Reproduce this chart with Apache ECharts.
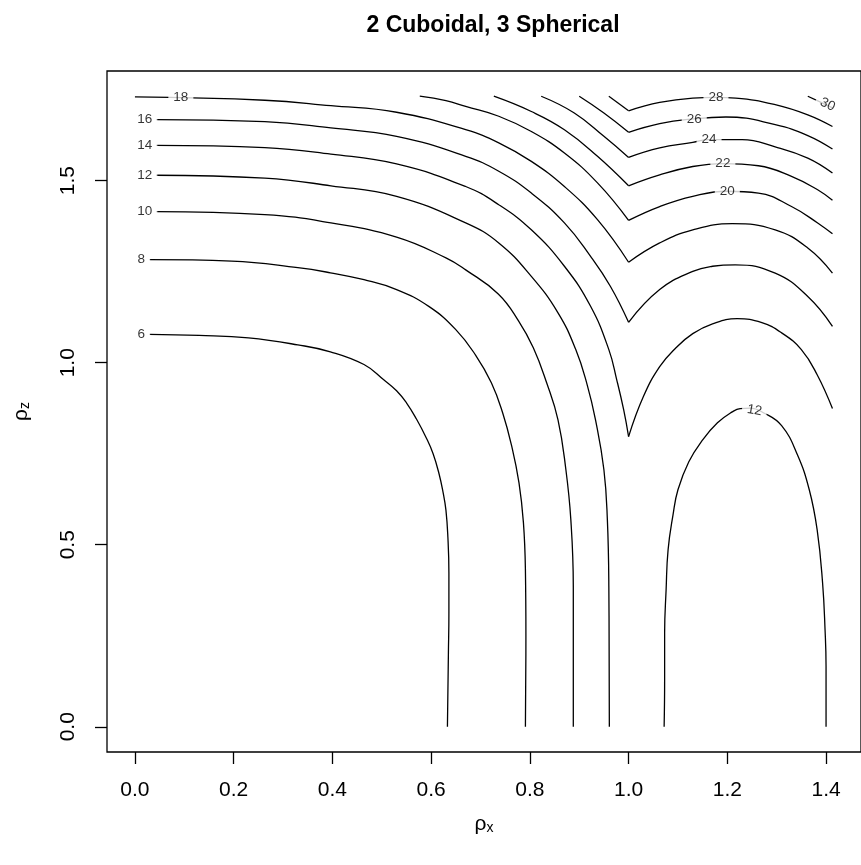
<!DOCTYPE html>
<html>
<head>
<meta charset="utf-8">
<script src="https://cdn.jsdelivr.net/npm/echarts@6/dist/echarts.min.js"></script>
<style>
html, body { margin: 0; padding: 0; background: #fff; }
#chart { width: 861px; height: 865px; }
</style>
</head>
<body>
<div id="chart"></div>
<script>
// tick labels
var xTicks = [0, 0.2, 0.4, 0.6, 0.8, 1.0, 1.2, 1.4];
var yTicks = [0, 0.5, 1.0, 1.5];

// contour lines, [rho_x, rho_z]; the left ones start where their label ends
var c6 = [[0.029, 1.078], [0.13, 1.075], [0.23, 1.068], [0.33, 1.049], [0.396, 1.03], [0.464, 0.995], [0.504, 0.953],
  [0.53, 0.923], [0.55, 0.89], [0.57, 0.846], [0.59, 0.794], [0.604, 0.75], [0.616, 0.695], [0.624, 0.645],
  [0.63, 0.595], [0.634, 0.519], [0.636, 0.423], [0.636, 0.313], [0.635, 0.203], [0.633, 0]];
var c8 = [[0.029, 1.283], [0.196, 1.279], [0.33, 1.261], [0.396, 1.247], [0.464, 1.228], [0.53, 1.201], [0.596, 1.154],
  [0.65, 1.091], [0.69, 1.021], [0.722, 0.945], [0.745, 0.862], [0.763, 0.772], [0.778, 0.67], [0.787, 0.56],
  [0.791, 0.43], [0.792, 0.25], [0.791, 0]];
var c10 = [[0.043, 1.415], [0.263, 1.407], [0.397, 1.384], [0.53, 1.345], [0.63, 1.288], [0.67, 1.255], [0.736, 1.189],
  [0.777, 1.115], [0.807, 1.041], [0.834, 0.945], [0.857, 0.843], [0.873, 0.706], [0.883, 0.569], [0.888, 0.385],
  [0.888, 0]];
var c12 = [[0.043, 1.515], [0.263, 1.507], [0.397, 1.486], [0.53, 1.457], [0.67, 1.384], [0.737, 1.329], [0.803, 1.237],
  [0.857, 1.137], [0.893, 1.036], [0.916, 0.94], [0.933, 0.843], [0.95, 0.706], [0.957, 0.569], [0.96, 0.385],
  [0.961, 0]];
var c12inner = [[1.072, 0], [1.073, 0.129], [1.073, 0.257], [1.076, 0.376], [1.08, 0.486], [1.09, 0.582], [1.1, 0.651],
  [1.122, 0.728], [1.15, 0.788], [1.18, 0.835], [1.21, 0.865], [1.226, 0.874], [1.246, 0.875], [1.274, 0.862],
  [1.31, 0.827], [1.342, 0.747], [1.366, 0.651], [1.382, 0.541], [1.393, 0.395], [1.398, 0.266], [1.4, 0.166], [1.4, 0]];
var c14 = [[0.043, 1.597], [0.263, 1.591], [0.397, 1.573], [0.53, 1.546], [0.67, 1.484], [0.737, 1.434], [0.803, 1.365],
  [0.87, 1.265], [0.923, 1.155], [0.96, 1.036], [0.976, 0.953], [0.99, 0.871], [1.0, 0.797],
  [1.03, 0.907], [1.063, 0.989], [1.096, 1.041], [1.13, 1.08], [1.17, 1.107], [1.22, 1.121], [1.27, 1.11],
  [1.31, 1.082], [1.35, 1.036], [1.382, 0.967], [1.413, 0.874]];
var c16 = [[0.043, 1.668], [0.263, 1.662], [0.397, 1.645], [0.53, 1.622], [0.67, 1.567], [0.737, 1.526], [0.803, 1.466],
  [0.87, 1.384], [0.923, 1.292], [0.963, 1.21], [1.0, 1.111],
  [1.063, 1.201], [1.13, 1.251], [1.17, 1.265], [1.216, 1.269], [1.297, 1.246], [1.363, 1.182], [1.413, 1.1]];
var c18 = [[0, 1.73], [0.263, 1.721], [0.397, 1.706], [0.53, 1.688], [0.67, 1.64], [0.737, 1.604], [0.803, 1.553],
  [0.87, 1.484], [0.937, 1.393], [1.0, 1.276],
  [1.063, 1.329], [1.13, 1.365], [1.21, 1.382], [1.297, 1.365], [1.363, 1.315], [1.413, 1.246]];
var c20 = [[0.577, 1.732], [0.63, 1.72], [0.67, 1.704], [0.737, 1.677], [0.803, 1.635], [0.87, 1.576], [0.937, 1.494],
  [1.0, 1.391],
  [1.063, 1.429], [1.13, 1.457], [1.2, 1.471], [1.263, 1.466], [1.33, 1.429], [1.383, 1.384], [1.413, 1.354]];
var c22 = [[0.727, 1.732], [0.803, 1.69], [0.87, 1.64], [0.937, 1.567], [1.0, 1.486],
  [1.063, 1.516], [1.13, 1.539], [1.191, 1.547], [1.263, 1.541], [1.33, 1.512], [1.383, 1.475], [1.413, 1.446]];
var c24 = [[0.823, 1.732], [0.89, 1.686], [0.95, 1.622], [1.0, 1.564],
  [1.063, 1.59], [1.13, 1.605], [1.163, 1.613], [1.23, 1.613], [1.297, 1.593], [1.363, 1.562], [1.413, 1.521]];
var c26 = [[0.9, 1.732], [0.95, 1.686], [1.0, 1.633],
  [1.063, 1.657], [1.133, 1.67], [1.197, 1.675], [1.297, 1.654], [1.363, 1.624], [1.413, 1.587]];
var c28 = [[0.96, 1.732], [1.0, 1.692],
  [1.063, 1.715], [1.13, 1.727], [1.177, 1.729], [1.217, 1.727], [1.297, 1.709], [1.363, 1.681], [1.413, 1.649]];
var c30 = [[1.363, 1.732], [1.393, 1.713], [1.413, 1.7]];

// contour labels: [rho_x, rho_z, text, angle]
var contourLabels = [
  [0.013, 1.078, '6', 0], [0.013, 1.283, '8', 0], [0.02, 1.415, '10', 0], [0.02, 1.515, '12', 0],
  [0.02, 1.597, '14', 0], [0.02, 1.668, '16', 0], [0.093, 1.73, '18', 0],
  [1.2, 1.471, '20', 0], [1.191, 1.547, '22', 0], [1.163, 1.613, '24', 0], [1.133, 1.67, '26', 0],
  [1.177, 1.729, '28', 0], [1.403, 1.709, '30', -25], [1.255, 0.869, '12', -10]
];

var FONT = '"Liberation Sans", Arial, Helvetica, sans-serif';
var allContours = [c6, c8, c10, c12, c12inner, c14, c16, c18, c20, c22, c24, c26, c28, c30];

// split at the sharp corner on rho_x = 1 so smoothing keeps the V
function pieces(pts) {
  var i = pts.findIndex(function (p) { return p[0] === 1; });
  return i > 0 ? [pts.slice(0, i + 1), pts.slice(i)] : [pts];
}

var series = [];
allContours.forEach(function (pts) {
  pieces(pts).forEach(function (part) {
    series.push({
      type: 'line',
      data: part,
      showSymbol: false,
      symbol: 'none',
      smooth: 0.45,
      silent: true,
      lineStyle: { color: '#000', width: 1.3 },
      z: 2
    });
  });
});

// the white box behind each label opens the gap in its line
series.push({
  type: 'scatter',
  symbolSize: 0,
  silent: true,
  z: 5,
  label: {
    show: true,
    position: 'inside',
    color: '#000',
    fontSize: 13.5,
    fontFamily: FONT,
    backgroundColor: '#fff',
    padding: [2, 5],
    formatter: function (p) { return p.data.text; }
  },
  data: contourLabels.map(function (d) {
    return { value: [d[0], d[1]], text: d[2], label: { rotate: d[3] } };
  })
});

var chart = echarts.init(document.getElementById('chart'), null, { renderer: 'canvas' });
chart.setOption({
  animation: false,
  backgroundColor: '#fff',
  title: {
    text: '2 Cuboidal, 3 Spherical',
    left: 488,
    top: 9,
    textAlign: 'center',
    textStyle: { fontSize: 23, fontWeight: 'bold', color: '#000', fontFamily: FONT }
  },
  grid: {
    left: 107, top: 71, width: 763, height: 681,
    show: true, borderColor: '#000', borderWidth: 1.3, backgroundColor: 'transparent'
  },
  xAxis: {
    type: 'value',
    min: -0.0566, max: 1.4708,
    name: '{r|ρ}{s|x}',
    nameLocation: 'middle',
    nameGap: 62,
    nameTextStyle: {
      rich: {
        r: { fontSize: 21, fontFamily: FONT, color: '#000', verticalAlign: 'middle' },
        s: { fontSize: 14, fontFamily: FONT, color: '#000', verticalAlign: 'bottom' }
      }
    },
    axisLine: { show: false, onZero: false },
    axisTick: { show: true, customValues: xTicks, length: 12, lineStyle: { color: '#000', width: 1.3 } },
    axisLabel: {
      customValues: xTicks, margin: 28, fontSize: 21, color: '#000', fontFamily: FONT,
      formatter: function (v) { return v.toFixed(1); }
    },
    splitLine: { show: false }
  },
  yAxis: {
    type: 'value',
    min: -0.0693, max: 1.8013,
    name: '{r|ρ}{s|z}',
    nameLocation: 'middle',
    nameGap: 75,
    nameRotate: 90,
    nameTextStyle: {
      rich: {
        r: { fontSize: 21, fontFamily: FONT, color: '#000', verticalAlign: 'middle' },
        s: { fontSize: 14, fontFamily: FONT, color: '#000', verticalAlign: 'bottom' }
      }
    },
    axisLine: { show: false, onZero: false },
    axisTick: { show: true, customValues: yTicks, length: 12, lineStyle: { color: '#000', width: 1.3 } },
    axisLabel: {
      customValues: yTicks, margin: 28, rotate: 90, fontSize: 21, color: '#000', fontFamily: FONT,
      formatter: function (v) { return v.toFixed(1); }
    },
    splitLine: { show: false }
  },
  series: series
});
</script>
</body>
</html>
